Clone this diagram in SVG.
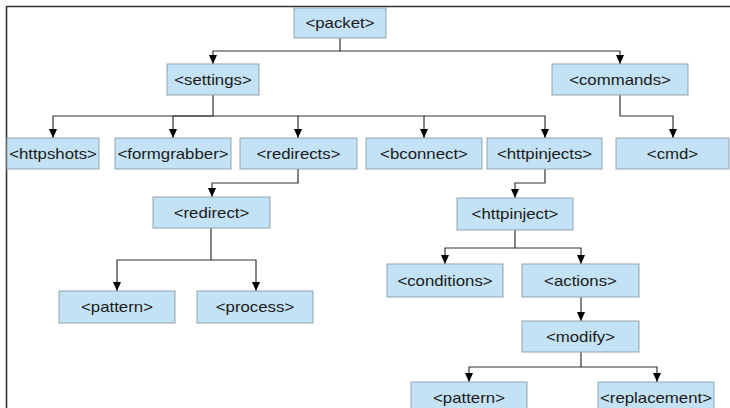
<svg xmlns="http://www.w3.org/2000/svg" width="730" height="408" viewBox="0 0 730 408">
  <style>
    .box { fill: #c3e2f5; stroke: #8fa3ae; stroke-width: 1; }
    .lbl { font-family: "Liberation Sans", Arial, sans-serif; font-size: 14px; fill: #1a1a1a; text-anchor: middle; }
    .wire { fill: none; stroke: #333; stroke-width: 1.2; }
    .frame { fill: none; stroke: #333; stroke-width: 1.6; }
  </style>
  <defs>
    <marker id="arrow" markerUnits="userSpaceOnUse" markerWidth="10" markerHeight="12" refX="9" refY="4" orient="auto">
      <path d="M0,0 L9,4 L0,8 Z" fill="#000"/>
    </marker>
  </defs>
  <rect width="730" height="408" fill="#fff"/>
  <path class="frame" d="M730,6.5 H6.5 V408"/>

  <g id="connectors" class="wire" marker-end="url(#arrow)">
    <path d="M340,38 V51 H213 V64"/>
    <path d="M340,51 H620 V64"/>
    <path d="M213,95 V116 H53 V138"/>
    <path d="M213,116 H173 V138"/>
    <path d="M213,116 H298 V138"/>
    <path d="M298,116 H424 V138"/>
    <path d="M424,116 H545 V138"/>
    <path d="M620,95 V116 H673 V138"/>
    <path d="M298,169 V183 H212 V197"/>
    <path d="M545,169 V183 H515 V198"/>
    <path d="M211,228 V260 H117 V291"/>
    <path d="M211,260 H256 V291"/>
    <path d="M515,230 V248 H445 V264"/>
    <path d="M515,248 H581 V264"/>
    <path d="M581,297 V321"/>
    <path d="M581,352 V367 H469 V382"/>
    <path d="M581,367 H657 V382"/>
  </g>

  <g id="packet"><rect class="box" x="294" y="8" width="92" height="30"/><text class="lbl" transform="translate(340 28) scale(1.2 1)">&lt;packet&gt;</text></g>
  <g id="settings"><rect class="box" x="167" y="64" width="92" height="31"/><text class="lbl" transform="translate(213 84.5) scale(1.2 1)">&lt;settings&gt;</text></g>
  <g id="commands"><rect class="box" x="552" y="64" width="136" height="31"/><text class="lbl" transform="translate(620 84.5) scale(1.2 1)">&lt;commands&gt;</text></g>
  <g id="httpshots"><rect class="box" x="7" y="138" width="92" height="31"/><text class="lbl" transform="translate(53 158.5) scale(1.2 1)">&lt;httpshots&gt;</text></g>
  <g id="formgrabber"><rect class="box" x="115" y="138" width="116" height="31"/><text class="lbl" transform="translate(173 158.5) scale(1.2 1)">&lt;formgrabber&gt;</text></g>
  <g id="redirects"><rect class="box" x="240" y="138" width="117" height="31"/><text class="lbl" transform="translate(298.5 158.5) scale(1.2 1)">&lt;redirects&gt;</text></g>
  <g id="bconnect"><rect class="box" x="366" y="138" width="116" height="31"/><text class="lbl" transform="translate(424 158.5) scale(1.2 1)">&lt;bconnect&gt;</text></g>
  <g id="httpinjects"><rect class="box" x="487" y="138" width="115" height="31"/><text class="lbl" transform="translate(544.5 158.5) scale(1.2 1)">&lt;httpinjects&gt;</text></g>
  <g id="cmd"><rect class="box" x="616" y="138" width="113" height="31"/><text class="lbl" transform="translate(672.5 158.5) scale(1.2 1)">&lt;cmd&gt;</text></g>
  <g id="redirect"><rect class="box" x="153" y="197" width="117" height="31"/><text class="lbl" transform="translate(211.5 217.5) scale(1.2 1)">&lt;redirect&gt;</text></g>
  <g id="httpinject"><rect class="box" x="457" y="198" width="116" height="32"/><text class="lbl" transform="translate(515 219) scale(1.2 1)">&lt;httpinject&gt;</text></g>
  <g id="pattern-redirect"><rect class="box" x="59" y="291" width="116" height="32"/><text class="lbl" transform="translate(117 312) scale(1.2 1)">&lt;pattern&gt;</text></g>
  <g id="process"><rect class="box" x="197" y="291" width="116" height="32"/><text class="lbl" transform="translate(255 312) scale(1.2 1)">&lt;process&gt;</text></g>
  <g id="conditions"><rect class="box" x="387" y="264" width="116" height="33"/><text class="lbl" transform="translate(445 285.5) scale(1.2 1)">&lt;conditions&gt;</text></g>
  <g id="actions"><rect class="box" x="522" y="264" width="117" height="33"/><text class="lbl" transform="translate(580.5 285.5) scale(1.2 1)">&lt;actions&gt;</text></g>
  <g id="modify"><rect class="box" x="522" y="321" width="117" height="31"/><text class="lbl" transform="translate(580.5 341.5) scale(1.2 1)">&lt;modify&gt;</text></g>
  <g id="pattern-modify"><rect class="box" x="411" y="382" width="116" height="32"/><text class="lbl" transform="translate(469 403) scale(1.2 1)">&lt;pattern&gt;</text></g>
  <g id="replacement"><rect class="box" x="598" y="382" width="116" height="32"/><text class="lbl" transform="translate(656 403) scale(1.2 1)">&lt;replacement&gt;</text></g>
</svg>
